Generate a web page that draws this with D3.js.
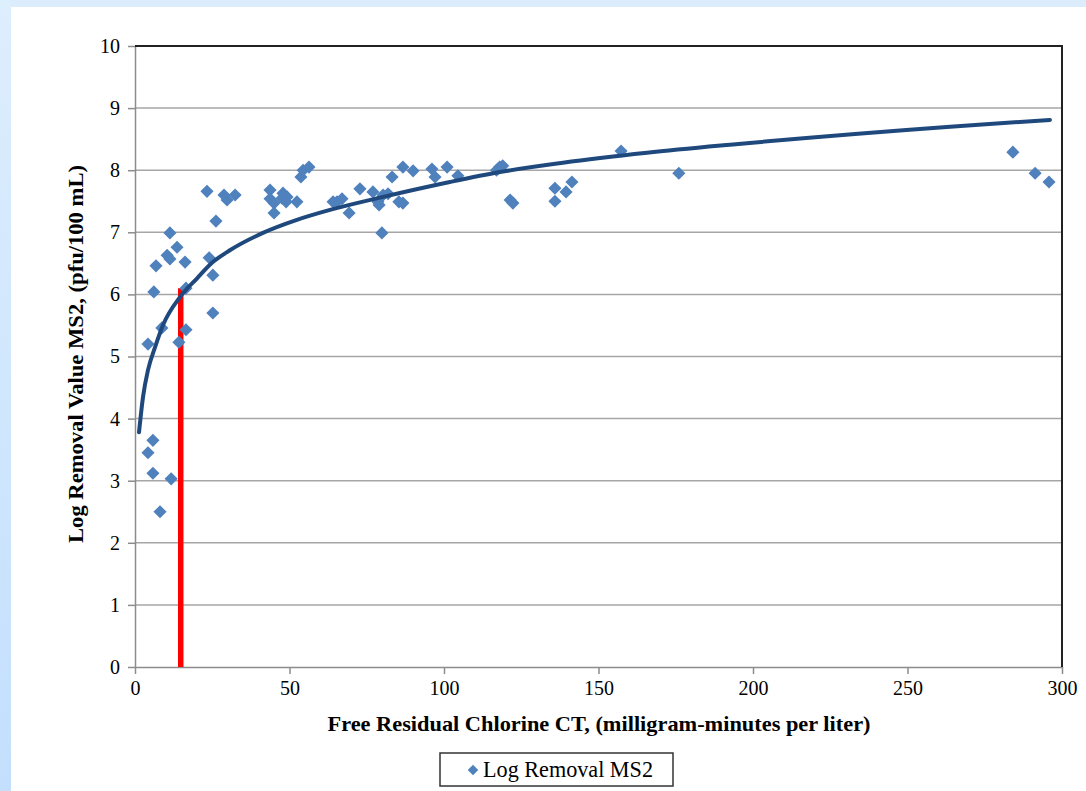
<!DOCTYPE html>
<html>
<head>
<meta charset="utf-8">
<script src="https://cdn.jsdelivr.net/npm/d3@7"></script>
<style>
  body { margin: 0; background: #fff; }
  svg text { font-family: "Liberation Serif", "Times New Roman", serif; }
  .grid line { stroke: #a6a6a6; stroke-width: 1.5; }
  .axis path, .axis line { stroke: #8c8c8c; stroke-width: 1.5; }
  .axis text { fill: #000; }
</style>
</head>
<body>
<div id="chart"></div>
<script>
// Measured points: free residual chlorine CT (mg-min/L) vs log removal MS2
var ctValues = [4.2, 4.2, 5.8, 5.8, 6.1, 6.8, 8.1, 8.7, 10.4, 11.3, 11.3, 11.7, 13.6, 14.2,
  16.2, 16.5, 16.5, 23.3, 24.0, 25.2, 25.2, 26.2, 28.8, 29.8, 32.4,
  43.7, 43.7, 45.0, 45.0, 47.9, 47.6, 49.2, 48.9, 52.4, 53.7, 54.4, 56.3,
  64.1, 65.4, 67.0, 69.3, 72.8, 77.0, 78.6, 79.0, 79.9, 80.3, 81.9, 83.2, 85.4, 86.7, 86.7,
  90.0, 96.1, 97.1, 101.0, 104.5, 117.0, 118.0, 119.0, 121.4, 122.3,
  135.9, 135.9, 139.5, 141.4, 157.3, 176.0, 284.1, 291.3, 295.8];
var logRemoval = [5.2, 3.45, 3.65, 3.12, 6.04, 6.46, 2.5, 5.46, 6.63, 6.99, 6.57, 3.03, 6.76, 5.23,
  6.52, 6.10, 5.43, 7.66, 6.59, 6.31, 5.70, 7.18, 7.60, 7.52, 7.60,
  7.68, 7.54, 7.47, 7.31, 7.63, 7.55, 7.57, 7.49, 7.49, 7.89, 8.00, 8.05,
  7.49, 7.49, 7.54, 7.31, 7.70, 7.65, 7.49, 7.44, 6.99, 7.60, 7.62, 7.89, 7.49, 7.47, 8.05,
  7.99, 8.02, 7.89, 8.05, 7.91, 8.00, 8.05, 8.07, 7.52, 7.47,
  7.71, 7.50, 7.65, 7.81, 8.31, 7.95, 8.29, 7.95, 7.81];

// Logarithmic trendline
var trendX = [1.3, 2.6, 4.2, 6.5, 9.1, 14.6, 20.1, 25.2, 30.7, 41.4, 52.4, 63.1, 80.3, 101.9,
  118.1, 138.5, 165.7, 192.6, 263.8, 296.1];
var trendY = [3.78, 4.35, 4.78, 5.15, 5.51, 5.96, 6.26, 6.52, 6.71, 6.99, 7.20, 7.36, 7.57, 7.81,
  7.97, 8.12, 8.28, 8.41, 8.70, 8.81];

// Red marker line (CT ~ 15 reaches 6 log)
var markerCT = 14.8;
var markerLog = 6.1;

var xTicks = [0, 50, 100, 150, 200, 250, 300];
var yTicks = [0, 1, 2, 3, 4, 5, 6, 7, 8, 9, 10];
var xTitle = "Free Residual Chlorine CT, (milligram-minutes per liter)";
var yTitle = "Log Removal Value MS2, (pfu/100 mL)";
var legendLabel = "Log Removal MS2";

var serif = '"Liberation Serif", "Times New Roman", serif';

var W = 1086, H = 791;
var margin = {top: 46, right: 24, bottom: 124, left: 135}
  , width = W - margin.left - margin.right
  , height = H - margin.top - margin.bottom;

var svg = d3.select("#chart").append("svg")
    .attr("width", W)
    .attr("height", H);

// light blue slide frame
var defs = svg.append("defs");
var grad = defs.append("linearGradient").attr("id", "sideGrad")
    .attr("x1", 0).attr("y1", 0).attr("x2", 0).attr("y2", 1);
grad.append("stop").attr("offset", "0%").attr("stop-color", "#ddeefd");
grad.append("stop").attr("offset", "100%").attr("stop-color", "#c3dffd");
svg.append("rect").attr("x", 0).attr("y", 0).attr("width", W).attr("height", 7).attr("fill", "#dbedfc");
svg.append("rect").attr("x", 0).attr("y", 0).attr("width", 11).attr("height", H).attr("fill", "url(#sideGrad)");

var g = svg.append("g")
    .attr("transform", "translate(" + margin.left + "," + margin.top + ")");

var xScale = d3.scaleLinear().domain([0, 300]).range([0, width]);
var yScale = d3.scaleLinear().domain([0, 10]).range([height, 0]);

// horizontal gridlines
g.append("g").attr("class", "grid")
  .selectAll("line").data(yTicks.slice(1)).enter().append("line")
    .attr("x1", 0).attr("x2", width)
    .attr("y1", function(d) { return yScale(d); })
    .attr("y2", function(d) { return yScale(d); });

// axes (d3 puts sans-serif on the group, so reset it there)
g.append("g").attr("class", "x axis")
    .attr("transform", "translate(0," + height + ")")
    .call(d3.axisBottom(xScale).tickValues(xTicks).tickSize(7).tickPadding(7).tickSizeOuter(0))
    .attr("font-family", serif).attr("font-size", 20);

g.append("g").attr("class", "y axis")
    .call(d3.axisLeft(yScale).tickValues(yTicks).tickSize(7).tickPadding(8).tickSizeOuter(0))
    .attr("font-family", serif).attr("font-size", 20);

// dark top and right border
g.append("path")
    .attr("d", "M0,0H" + width + "V" + height)
    .attr("fill", "none").attr("stroke", "#222").attr("stroke-width", 2);

// red line
g.append("line")
    .attr("x1", xScale(markerCT)).attr("x2", xScale(markerCT))
    .attr("y1", yScale(0)).attr("y2", yScale(markerLog))
    .attr("stroke", "#ff0000").attr("stroke-width", 5.5);

// data points
var points = ctValues.map(function(x, i) { return {x: x, y: logRemoval[i]}; });
var diamond = d3.symbol().type(d3.symbolDiamond2).size(110);
g.append("g").selectAll("path").data(points).enter().append("path")
    .attr("d", diamond)
    .attr("transform", function(d) { return "translate(" + xScale(d.x) + "," + yScale(d.y) + ")"; })
    .attr("fill", "#4f81bd");

// trendline
var trend = trendX.map(function(x, i) { return {x: x, y: trendY[i]}; });
g.append("path")
    .datum(trend)
    .attr("fill", "none")
    .attr("stroke", "#1f497d")
    .attr("stroke-width", 4)
    .attr("stroke-linecap", "round")
    .attr("d", d3.line().curve(d3.curveMonotoneX)
        .x(function(d) { return xScale(d.x); })
        .y(function(d) { return yScale(d.y); }));

// axis titles
svg.append("text")
    .attr("x", 599).attr("y", 731)
    .attr("text-anchor", "middle")
    .style("font-family", serif)
    .attr("font-size", 21).attr("font-weight", "bold")
    .attr("textLength", 543).attr("lengthAdjust", "spacingAndGlyphs")
    .text(xTitle);

svg.append("text")
    .attr("transform", "translate(83,354) rotate(-90)")
    .attr("text-anchor", "middle")
    .style("font-family", serif)
    .attr("font-size", 21).attr("font-weight", "bold")
    .attr("textLength", 378).attr("lengthAdjust", "spacingAndGlyphs")
    .text(yTitle);

// legend
var legend = svg.append("g").attr("transform", "translate(440,753)");
legend.append("rect")
    .attr("width", 233).attr("height", 33)
    .attr("fill", "#fff").attr("stroke", "#333").attr("stroke-width", 1.5);
legend.append("path")
    .attr("d", d3.symbol().type(d3.symbolDiamond2).size(70))
    .attr("transform", "translate(33,17)")
    .attr("fill", "#4f81bd");
legend.append("text")
    .attr("x", 43).attr("y", 24)
    .style("font-family", serif)
    .attr("font-size", 24)
    .attr("textLength", 170).attr("lengthAdjust", "spacingAndGlyphs")
    .text(legendLabel);
</script>
</body>
</html>
